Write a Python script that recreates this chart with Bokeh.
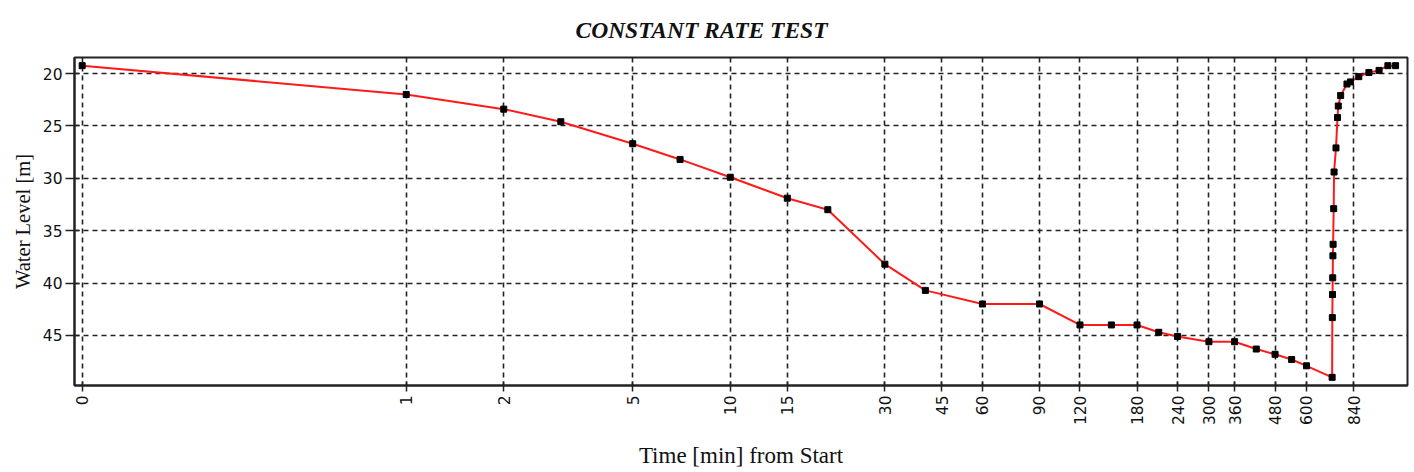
import math

from bokeh.plotting import figure
from bokeh.models import Range1d, FixedTicker, Title, ColumnDataSource
from bokeh.embed import file_html
from bokeh.resources import INLINE

# Elapsed time since pump start [min] and water level [m below datum]
time_min = [0, 1, 2, 3, 5, 7, 10, 15, 20, 30, 40, 60, 90, 120, 150, 180, 210,
            240, 300, 360, 420, 480, 540, 600, 720,
            721, 722, 723, 724, 725, 728, 730, 740, 748, 752, 765, 800, 820,
            870, 935, 1005, 1070, 1130]
water_level = [19.25, 22.0, 23.4, 24.6, 26.7, 28.2, 29.9, 31.9, 33.0, 38.2, 40.7,
               42.0, 42.0, 44.0, 44.0, 44.0, 44.7, 45.1, 45.6, 45.6, 46.3, 46.8,
               47.3, 47.9, 49.0,
               43.3, 41.1, 39.5, 37.4, 36.3, 32.9, 29.4, 27.1, 24.2, 23.1, 22.1,
               21.0, 20.8, 20.3, 19.9, 19.7, 19.25, 19.25]

x_ticks = [0, 1, 2, 5, 10, 15, 30, 45, 60, 90, 120, 180, 240, 300, 360, 480, 600, 840]
y_ticks = [20, 25, 30, 35, 40, 45]

# t = 0 cannot sit on a log axis; it is drawn one decade below 1 minute
ZERO_POS = 0.1


def to_axis(t):
    return t if t > 0 else ZERO_POS


src = ColumnDataSource(data=dict(x=[to_axis(t) for t in time_min], y=water_level))

p = figure(width=1414, height=472, x_axis_type="log",
           x_range=Range1d(0.0947, 1230), y_range=Range1d(49.78, 18.47),
           output_backend="svg", toolbar_location=None,
           min_border_left=74, min_border_right=7, min_border_top=57,
           min_border_bottom=87)

p.title = Title(text="CONSTANT RATE TEST", align="left", offset=501, standoff=29,
                text_font="Liberation Serif", text_font_style="bold italic",
                text_font_size="23.5px", text_color="#111111")

p.background_fill_color = "white"
p.border_fill_color = "white"
p.outline_line_color = "#222222"
p.outline_line_width = 2

# x axis: log time with fixed labels, rotated to read upwards
tick_pos = [to_axis(t) for t in x_ticks]
p.xaxis.ticker = FixedTicker(ticks=tick_pos)
p.xaxis.major_label_overrides = {tp: str(t) for tp, t in zip(tick_pos, x_ticks)}
p.xaxis.major_label_orientation = math.pi / 2
p.xaxis.minor_tick_line_color = None
p.xaxis.axis_label = "Time [min] from Start"

p.yaxis.ticker = FixedTicker(ticks=y_ticks)
p.yaxis.minor_tick_line_color = None
p.yaxis.axis_label = "Water Level [m]"

for ax in (p.xaxis[0], p.yaxis[0]):
    ax.axis_line_color = "#222222"
    ax.axis_line_width = 2
    ax.major_tick_line_color = "#222222"
    ax.major_tick_line_width = 1.5
    ax.major_label_text_font = "DejaVu Sans"
    ax.major_label_text_font_size = "15.5px"
    ax.major_label_text_color = "#111111"
    ax.axis_label_text_font = "Liberation Serif"
    ax.axis_label_text_font_style = "normal"
    ax.axis_label_text_color = "#111111"

p.xaxis.axis_label_text_font_size = "23px"
p.yaxis.axis_label_text_font_size = "20.5px"

p.xaxis.major_tick_out = 6
p.xaxis.major_tick_in = 4
p.xaxis.major_label_standoff = 4
p.xaxis.axis_label_standoff = 15
p.yaxis.major_tick_out = 9
p.yaxis.major_tick_in = 5
p.yaxis.major_label_standoff = 3
p.yaxis.axis_label_standoff = 6

p.grid.grid_line_color = "#222222"
p.grid.grid_line_width = 1.6
p.grid.grid_line_dash = "5 4"

p.line("x", "y", source=src, line_color="#ff1a1a", line_width=2)
p.scatter("x", "y", source=src, marker="square", size=6,
          fill_color="black", line_color="black")

open("out.html", "w").write(file_html(p, INLINE))
